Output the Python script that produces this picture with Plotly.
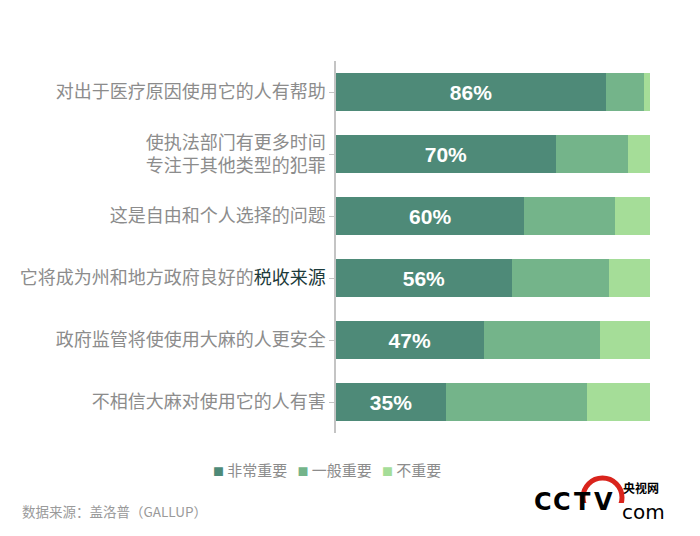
import plotly.graph_objects as go

# survey data (Gallup), percent of respondents
reasons = [
    '对出于医疗原因使用它的人有帮助',
    '使执法部门有更多时间<br>专注于其他类型的犯罪',
    '这是自由和个人选择的问题',
    '它将成为州和地方政府良好的<span style="color:#1c3a3a">税收来源</span>',
    '政府监管将使使用大麻的人更安全',
    '不相信大麻对使用它的人有害',
]
very_important = [86, 70, 60, 56, 47, 35]
somewhat_important = [12, 23, 29, 31, 37, 45]
not_important = [2, 7, 11, 13, 16, 20]

series_names = ['非常重要', '一般重要', '不重要']
colors = ['#4E8A78', '#74B48A', '#A5DD98']

# page has an 8px body margin, so the figure is a bit smaller than the window
OFF = 8
W, H = 692, 528
L, R, T, B = 328, 50, 53, 103


def px(x):
    # page pixel -> paper x
    return (x - OFF - L) / (W - L - R)


def py(y):
    # page pixel -> paper y
    return (H - B - (y - OFF)) / (H - T - B)


fig = go.Figure()
fig.add_trace(go.Bar(
    y=reasons, x=very_important, orientation='h', name=series_names[0],
    marker=dict(color=colors[0], line=dict(width=0)),
    text=[f'{v}%' for v in very_important],
    textposition='inside', insidetextanchor='middle',
    textfont=dict(family='Liberation Sans', size=21, color='white', weight='bold'),
    constraintext='none',
))
fig.add_trace(go.Bar(
    y=reasons, x=somewhat_important, orientation='h', name=series_names[1],
    marker=dict(color=colors[1], line=dict(width=0)),
))
fig.add_trace(go.Bar(
    y=reasons, x=not_important, orientation='h', name=series_names[2],
    marker=dict(color=colors[2], line=dict(width=0)),
))

fig.update_layout(
    width=W, height=H,
    margin=dict(l=L, r=R, t=T, b=B),
    barmode='stack', bargap=0.4,
    showlegend=False,
    paper_bgcolor='white', plot_bgcolor='white',
    font=dict(family='Noto Sans CJK SC', color='#8c8c8c'),
    xaxis=dict(range=[0, 100], visible=False, fixedrange=True),
    yaxis=dict(
        autorange='reversed',
        showline=True, linecolor='#c4c4c4', linewidth=1.5,
        ticks='outside', ticklen=5, tickcolor='#c4c4c4',
        tickfont=dict(size=18, color='#8c8c8c'),
        showgrid=False,
    ),
)

# legend drawn as one line of text
legend_text = '   '.join(
    f'<span style="color:{c};font-size:11px">■</span> {n}'
    for c, n in zip(colors, series_names)
)
fig.add_annotation(
    text=legend_text, xref='paper', yref='paper',
    x=px(327), y=py(470), xanchor='center', yanchor='middle',
    showarrow=False, font=dict(size=15, color='#8c8c8c'),
)

fig.add_annotation(
    text='数据来源：盖洛普（GALLUP）', xref='paper', yref='paper',
    x=px(20), y=py(511), xanchor='left', yanchor='middle',
    showarrow=False, font=dict(size=13.5, color='#9a9a9a'),
)

# CCTV logo (rough)
fig.add_shape(
    type='circle', xref='paper', yref='paper',
    x0=px(583), x1=px(622), y0=py(517), y1=py(478),
    line=dict(color='#d9241c', width=5),
)
fig.add_shape(
    type='rect', xref='paper', yref='paper',
    x0=px(575), x1=px(640), y0=py(535), y1=py(503),
    line=dict(width=0), fillcolor='white',
)
for letter, cx in zip('CCTV', [543, 562, 582, 603]):
    fig.add_annotation(
        text=letter, xref='paper', yref='paper',
        x=px(cx), y=py(502), xanchor='center', yanchor='middle',
        showarrow=False,
        font=dict(family='DejaVu Sans', size=24, color='black', weight='bold'),
    )
fig.add_annotation(
    text='央视网', xref='paper', yref='paper',
    x=px(621), y=py(498), xanchor='left', yanchor='bottom',
    showarrow=False, font=dict(size=12, color='black', weight='bold'),
)
fig.add_annotation(
    text='com', xref='paper', yref='paper',
    x=px(620), y=py(498), xanchor='left', yanchor='top',
    showarrow=False, font=dict(family='DejaVu Sans', size=20, color='black'),
)

fig.write_html('out.html')
